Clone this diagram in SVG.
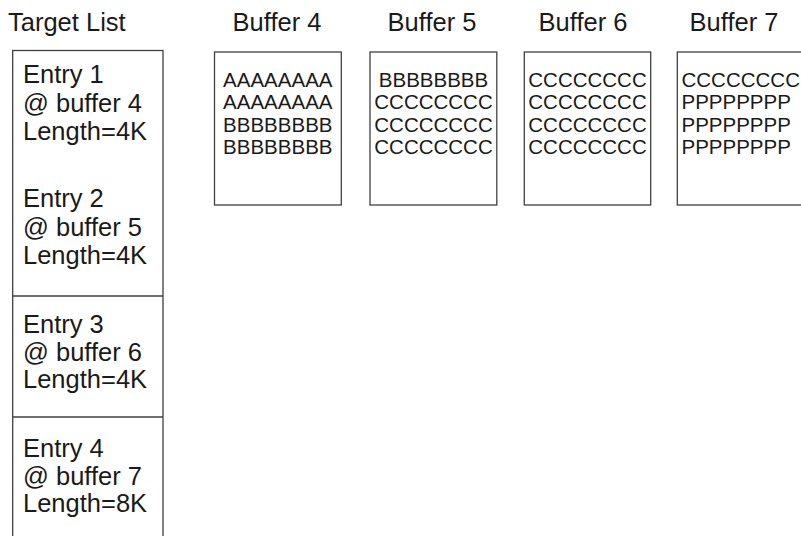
<svg xmlns="http://www.w3.org/2000/svg" width="801" height="536" viewBox="0 0 801 536">
  <style>
    .bg { fill: #ffffff; }
    .box { fill: #ffffff; stroke: #404040; stroke-width: 1.3; }
    .sep { stroke: #404040; stroke-width: 1.3; fill: none; }
    .title { font-family: "Liberation Sans", Arial, sans-serif; font-size: 25.5px; fill: #1a1a1a; }
    .entry { font-family: "Liberation Sans", Arial, sans-serif; font-size: 25.5px; fill: #1a1a1a; }
    .data { font-family: "Liberation Sans", Arial, sans-serif; font-size: 20.5px; fill: #1a1a1a; }
    .mid { text-anchor: middle; }
  </style>
  <rect class="bg" x="0" y="0" width="801" height="536"/>

  <!-- Target list: four entries stacked in one column -->
  <g id="target-list">
    <text class="title" x="8" y="31">Target List</text>
    <rect class="box" x="12.7" y="50.5" width="150.3" height="500"/>
    <line class="sep" x1="12.7" y1="296" x2="163" y2="296"/>
    <line class="sep" x1="12.7" y1="417" x2="163" y2="417"/>
  </g>

  <g id="entry-1">
    <text class="entry" x="23" y="83">Entry 1</text>
    <text class="entry" x="23" y="112">@ buffer 4</text>
    <text class="entry" x="23" y="140">Length=4K</text>
  </g>
  <g id="entry-2">
    <text class="entry" x="23" y="207">Entry 2</text>
    <text class="entry" x="23" y="236">@ buffer 5</text>
    <text class="entry" x="23" y="264">Length=4K</text>
  </g>
  <g id="entry-3">
    <text class="entry" x="23" y="333">Entry 3</text>
    <text class="entry" x="23" y="361">@ buffer 6</text>
    <text class="entry" x="23" y="388">Length=4K</text>
  </g>
  <g id="entry-4">
    <text class="entry" x="23" y="457">Entry 4</text>
    <text class="entry" x="23" y="485">@ buffer 7</text>
    <text class="entry" x="23" y="512">Length=8K</text>
  </g>

  <!-- Buffers -->
  <g id="buffer-4">
    <text class="title mid" x="277" y="31">Buffer 4</text>
    <rect class="box" x="214.5" y="52" width="126.8" height="153"/>
    <text class="data mid" x="277.8" y="87">AAAAAAAA</text>
    <text class="data mid" x="277.8" y="109">AAAAAAAA</text>
    <text class="data mid" x="277.8" y="131.5">BBBBBBBB</text>
    <text class="data mid" x="277.8" y="154">BBBBBBBB</text>
  </g>

  <g id="buffer-5">
    <text class="title mid" x="432" y="31">Buffer 5</text>
    <rect class="box" x="370" y="52" width="126.8" height="153"/>
    <text class="data mid" x="433.5" y="87">BBBBBBBB</text>
    <text class="data mid" x="433.5" y="109">CCCCCCCC</text>
    <text class="data mid" x="433.5" y="131.5">CCCCCCCC</text>
    <text class="data mid" x="433.5" y="154">CCCCCCCC</text>
  </g>

  <g id="buffer-6">
    <text class="title mid" x="583" y="31">Buffer 6</text>
    <rect class="box" x="524.3" y="52" width="126.4" height="153"/>
    <text class="data mid" x="587.5" y="87">CCCCCCCC</text>
    <text class="data mid" x="587.5" y="109">CCCCCCCC</text>
    <text class="data mid" x="587.5" y="131.5">CCCCCCCC</text>
    <text class="data mid" x="587.5" y="154">CCCCCCCC</text>
  </g>

  <g id="buffer-7">
    <text class="title mid" x="734" y="31">Buffer 7</text>
    <rect class="box" x="677.3" y="52" width="126.8" height="153"/>
    <text class="data" x="681.5" y="87">CCCCCCCC</text>
    <text class="data" x="681.5" y="109">PPPPPPPP</text>
    <text class="data" x="681.5" y="131.5">PPPPPPPP</text>
    <text class="data" x="681.5" y="154">PPPPPPPP</text>
  </g>

  <!-- no connectors are drawn between entries and buffers -->
  <g id="connectors"></g>
</svg>
